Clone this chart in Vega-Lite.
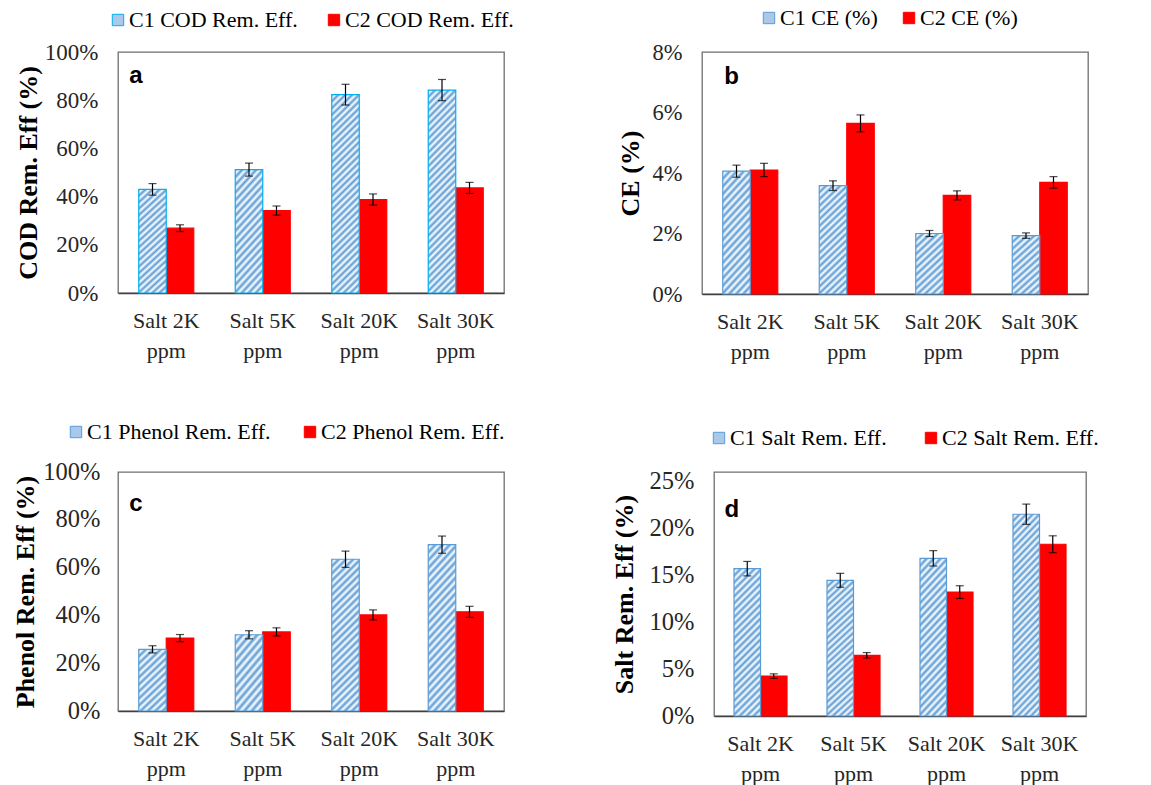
{
"$schema": "https://vega.github.io/schema/vega-lite/v6.json",
"padding": {"left": 12, "top": 6, "right": 5, "bottom": 5},
"bounds": "flush",
"spacing": 420,
"resolve": {"scale": {"fill": "independent", "stroke": "independent"}, "legend": {"fill": "independent", "stroke": "independent"}},
"config": {
  "view": {"stroke": "#6f6f6f", "strokeWidth": 1.3},
  "axis": {"labelFont": "Liberation Serif", "titleFont": "Liberation Serif", "labelColor": "#262626", "titleColor": "#000", "grid": false, "ticks": false},
  "axisY": {"domain": false, "labelPadding": 20, "titleFontSize": 26, "titleFontWeight": "bold"},
  "axisX": {"domainColor": "#404040", "domainWidth": 1.5, "labelFontSize": 22, "labelAngle": 0, "labelLineHeight": 30, "labelPadding": 17, "title": null, "labelExpr": "[replace(datum.label, ' ppm', ''), 'ppm']"},
  "legend": {"labelFont": "Liberation Serif", "labelFontSize": 22, "labelColor": "#000", "labelLimit": 0, "symbolType": "square", "symbolSize": 130, "labelOffset": 0, "symbolStrokeWidth": 1, "direction": "horizontal", "orient": "none"},
  "tick": {"color": "#000", "size": 8, "thickness": 1.2},
  "rule": {"color": "#000", "strokeWidth": 1.2}
},
"vconcat": [
{
"hconcat": [
{
"width": 386, "height": 241,
"data": {"values": [
{"cat": "Salt 2K ppm", "series": "C1 COD Rem. Eff.", "v": 0.43, "lo": 0.406, "hi": 0.454},
{"cat": "Salt 2K ppm", "series": "C2 COD Rem. Eff.", "v": 0.269, "lo": 0.255, "hi": 0.283},
{"cat": "Salt 5K ppm", "series": "C1 COD Rem. Eff.", "v": 0.512, "lo": 0.485, "hi": 0.539},
{"cat": "Salt 5K ppm", "series": "C2 COD Rem. Eff.", "v": 0.342, "lo": 0.323, "hi": 0.361},
{"cat": "Salt 20K ppm", "series": "C1 COD Rem. Eff.", "v": 0.823, "lo": 0.78, "hi": 0.866},
{"cat": "Salt 20K ppm", "series": "C2 COD Rem. Eff.", "v": 0.388, "lo": 0.365, "hi": 0.411},
{"cat": "Salt 30K ppm", "series": "C1 COD Rem. Eff.", "v": 0.842, "lo": 0.798, "hi": 0.886},
{"cat": "Salt 30K ppm", "series": "C2 COD Rem. Eff.", "v": 0.436, "lo": 0.413, "hi": 0.459}
]},
"encoding": {"x": {"field": "cat", "type": "nominal", "sort": null, "scale": {"paddingInner": 0.43, "paddingOuter": 0.215}}},
"layer": [
{"transform": [{"filter": "datum.series === 'C2 COD Rem. Eff.'"}],
 "mark": {"type": "bar", "width": 27.5, "xOffset": 13.75, "strokeWidth": 1.2},
 "encoding": {
  "y": {"field": "v", "type": "quantitative", "scale": {"domain": [0, 1]}, "axis": {"title": "COD Rem. Eff (%)", "format": ".0%", "values": [0, 0.2, 0.4, 0.6, 0.8, 1], "labelFontSize": 23, "titlePadding": 3}},
  "fill": {"field": "series", "type": "nominal", "scale": {"domain": ["C1 COD Rem. Eff.", "C2 COD Rem. Eff."], "range": ["#a9c8ea", "#ff0000"]}, "legend": {"title": null, "orient": "none", "legendX": -11, "legendY": -43, "direction": "horizontal", "columnPadding": 25, "encode": {"symbols": {"update": {"fill": {"signal": "datum.index === 0 ? {gradient: 'linear', x1: 0, y1: 0, x2: 1, y2: 1, stops: [{offset: 0, color: '#5b9bd5'}, {offset: 0.167, color: '#fff'}, {offset: 0.333, color: '#5b9bd5'}, {offset: 0.5, color: '#fff'}, {offset: 0.667, color: '#5b9bd5'}, {offset: 0.833, color: '#fff'}, {offset: 1, color: '#5b9bd5'}]} : '#ff0000'"}}}}}},
  "stroke": {"field": "series", "type": "nominal", "scale": {"domain": ["C1 COD Rem. Eff.", "C2 COD Rem. Eff."], "range": ["#00b0f0", "#ff0000"]}, "legend": {"title": null, "orient": "none", "legendX": -11, "legendY": -43, "direction": "horizontal", "columnPadding": 25, "encode": {"symbols": {"update": {"fill": {"signal": "datum.index === 0 ? {gradient: 'linear', x1: 0, y1: 0, x2: 1, y2: 1, stops: [{offset: 0, color: '#5b9bd5'}, {offset: 0.167, color: '#fff'}, {offset: 0.333, color: '#5b9bd5'}, {offset: 0.5, color: '#fff'}, {offset: 0.667, color: '#5b9bd5'}, {offset: 0.833, color: '#fff'}, {offset: 1, color: '#5b9bd5'}]} : '#ff0000'"}}}}}}
 }},
{"transform": [{"filter": "datum.series === 'C1 COD Rem. Eff.'"}],
 "mark": {"type": "bar", "width": 27.5, "xOffset": -13.75, "stroke": "#00b0f0", "strokeWidth": 1.2},
 "encoding": {
  "y": {"field": "v", "type": "quantitative"},
  "fill": {"condition": {"test": "datum.v > 0.7", "value": {"gradient":"linear","x1":0,"y1":0,"x2":0.153,"y2":1.117,"stops":[{"offset":0,"color":"#5b9bd5"},{"offset":0.015,"color":"#fff"},{"offset":0.03,"color":"#5b9bd5"},{"offset":0.045,"color":"#fff"},{"offset":0.06,"color":"#5b9bd5"},{"offset":0.075,"color":"#fff"},{"offset":0.09,"color":"#5b9bd5"},{"offset":0.105,"color":"#fff"},{"offset":0.12,"color":"#5b9bd5"},{"offset":0.135,"color":"#fff"},{"offset":0.15,"color":"#5b9bd5"},{"offset":0.165,"color":"#fff"},{"offset":0.18,"color":"#5b9bd5"},{"offset":0.195,"color":"#fff"},{"offset":0.21,"color":"#5b9bd5"},{"offset":0.225,"color":"#fff"},{"offset":0.24,"color":"#5b9bd5"},{"offset":0.255,"color":"#fff"},{"offset":0.27,"color":"#5b9bd5"},{"offset":0.285,"color":"#fff"},{"offset":0.3,"color":"#5b9bd5"},{"offset":0.315,"color":"#fff"},{"offset":0.33,"color":"#5b9bd5"},{"offset":0.345,"color":"#fff"},{"offset":0.36,"color":"#5b9bd5"},{"offset":0.375,"color":"#fff"},{"offset":0.39,"color":"#5b9bd5"},{"offset":0.405,"color":"#fff"},{"offset":0.42,"color":"#5b9bd5"},{"offset":0.435,"color":"#fff"},{"offset":0.45,"color":"#5b9bd5"},{"offset":0.465,"color":"#fff"},{"offset":0.48,"color":"#5b9bd5"},{"offset":0.495,"color":"#fff"},{"offset":0.51,"color":"#5b9bd5"},{"offset":0.525,"color":"#fff"},{"offset":0.54,"color":"#5b9bd5"},{"offset":0.555,"color":"#fff"},{"offset":0.57,"color":"#5b9bd5"},{"offset":0.585,"color":"#fff"},{"offset":0.6,"color":"#5b9bd5"},{"offset":0.615,"color":"#fff"},{"offset":0.63,"color":"#5b9bd5"},{"offset":0.645,"color":"#fff"},{"offset":0.66,"color":"#5b9bd5"},{"offset":0.675,"color":"#fff"},{"offset":0.69,"color":"#5b9bd5"},{"offset":0.705,"color":"#fff"},{"offset":0.72,"color":"#5b9bd5"},{"offset":0.735,"color":"#fff"},{"offset":0.75,"color":"#5b9bd5"},{"offset":0.765,"color":"#fff"},{"offset":0.78,"color":"#5b9bd5"},{"offset":0.795,"color":"#fff"},{"offset":0.81,"color":"#5b9bd5"},{"offset":0.825,"color":"#fff"},{"offset":0.84,"color":"#5b9bd5"},{"offset":0.855,"color":"#fff"},{"offset":0.87,"color":"#5b9bd5"},{"offset":0.885,"color":"#fff"},{"offset":0.9,"color":"#5b9bd5"},{"offset":0.915,"color":"#fff"},{"offset":0.93,"color":"#5b9bd5"},{"offset":0.945,"color":"#fff"},{"offset":0.96,"color":"#5b9bd5"},{"offset":0.975,"color":"#fff"},{"offset":0.99,"color":"#5b9bd5"},{"offset":1,"color":"#fff"}]}},
   "value": {"gradient":"linear","x1":0,"y1":0,"x2":0.286,"y2":1.174,"stops":[{"offset":0,"color":"#5b9bd5"},{"offset":0.025,"color":"#fff"},{"offset":0.05,"color":"#5b9bd5"},{"offset":0.075,"color":"#fff"},{"offset":0.1,"color":"#5b9bd5"},{"offset":0.125,"color":"#fff"},{"offset":0.15,"color":"#5b9bd5"},{"offset":0.175,"color":"#fff"},{"offset":0.2,"color":"#5b9bd5"},{"offset":0.225,"color":"#fff"},{"offset":0.25,"color":"#5b9bd5"},{"offset":0.275,"color":"#fff"},{"offset":0.3,"color":"#5b9bd5"},{"offset":0.325,"color":"#fff"},{"offset":0.35,"color":"#5b9bd5"},{"offset":0.375,"color":"#fff"},{"offset":0.4,"color":"#5b9bd5"},{"offset":0.425,"color":"#fff"},{"offset":0.45,"color":"#5b9bd5"},{"offset":0.475,"color":"#fff"},{"offset":0.5,"color":"#5b9bd5"},{"offset":0.525,"color":"#fff"},{"offset":0.55,"color":"#5b9bd5"},{"offset":0.575,"color":"#fff"},{"offset":0.6,"color":"#5b9bd5"},{"offset":0.625,"color":"#fff"},{"offset":0.65,"color":"#5b9bd5"},{"offset":0.675,"color":"#fff"},{"offset":0.7,"color":"#5b9bd5"},{"offset":0.725,"color":"#fff"},{"offset":0.75,"color":"#5b9bd5"},{"offset":0.775,"color":"#fff"},{"offset":0.8,"color":"#5b9bd5"},{"offset":0.825,"color":"#fff"},{"offset":0.85,"color":"#5b9bd5"},{"offset":0.875,"color":"#fff"},{"offset":0.9,"color":"#5b9bd5"},{"offset":0.925,"color":"#fff"},{"offset":0.95,"color":"#5b9bd5"},{"offset":0.975,"color":"#fff"},{"offset":1,"color":"#5b9bd5"}]}}
 }},
{"transform": [{"filter": "datum.series === 'C1 COD Rem. Eff.'"}], "mark": {"type": "rule", "xOffset": -13.75}, "encoding": {"y": {"field": "lo", "type": "quantitative"}, "y2": {"field": "hi"}}},
{"transform": [{"filter": "datum.series === 'C2 COD Rem. Eff.'"}], "mark": {"type": "rule", "xOffset": 13.75}, "encoding": {"y": {"field": "lo", "type": "quantitative"}, "y2": {"field": "hi"}}},
{"transform": [{"filter": "datum.series === 'C1 COD Rem. Eff.'"}], "mark": {"type": "tick", "xOffset": -13.75}, "encoding": {"y": {"field": "lo", "type": "quantitative"}}},
{"transform": [{"filter": "datum.series === 'C1 COD Rem. Eff.'"}], "mark": {"type": "tick", "xOffset": -13.75}, "encoding": {"y": {"field": "hi", "type": "quantitative"}}},
{"transform": [{"filter": "datum.series === 'C2 COD Rem. Eff.'"}], "mark": {"type": "tick", "xOffset": 13.75}, "encoding": {"y": {"field": "lo", "type": "quantitative"}}},
{"transform": [{"filter": "datum.series === 'C2 COD Rem. Eff.'"}], "mark": {"type": "tick", "xOffset": 13.75}, "encoding": {"y": {"field": "hi", "type": "quantitative"}}},
{"data": {"values": [{"t": "a"}]},
 "mark": {"type": "text", "font": "Liberation Sans", "fontWeight": "bold", "fontSize": 24, "align": "left", "baseline": "middle", "dx": -37, "color": "#000"},
 "encoding": {"x": {"datum": "Salt 2K ppm"}, "y": {"datum": 0.9}, "text": {"field": "t"}}}
]
},
{
"width": 386, "height": 242,
"data": {"values": [
{"cat": "Salt 2K ppm", "series": "C1 CE (%)", "v": 0.0406, "lo": 0.0386, "hi": 0.0426},
{"cat": "Salt 2K ppm", "series": "C2 CE (%)", "v": 0.041, "lo": 0.0388, "hi": 0.0432},
{"cat": "Salt 5K ppm", "series": "C1 CE (%)", "v": 0.0358, "lo": 0.0342, "hi": 0.0374},
{"cat": "Salt 5K ppm", "series": "C2 CE (%)", "v": 0.0564, "lo": 0.0536, "hi": 0.0592},
{"cat": "Salt 20K ppm", "series": "C1 CE (%)", "v": 0.02, "lo": 0.019, "hi": 0.021},
{"cat": "Salt 20K ppm", "series": "C2 CE (%)", "v": 0.0326, "lo": 0.0311, "hi": 0.0341},
{"cat": "Salt 30K ppm", "series": "C1 CE (%)", "v": 0.0193, "lo": 0.0184, "hi": 0.0202},
{"cat": "Salt 30K ppm", "series": "C2 CE (%)", "v": 0.0369, "lo": 0.035, "hi": 0.0388}
]},
"encoding": {"x": {"field": "cat", "type": "nominal", "sort": null, "scale": {"paddingInner": 0.43, "paddingOuter": 0.215}}},
"layer": [
{"transform": [{"filter": "datum.series === 'C2 CE (%)'"}],
 "mark": {"type": "bar", "width": 27.5, "xOffset": 13.75, "strokeWidth": 1.2},
 "encoding": {
  "y": {"field": "v", "type": "quantitative", "scale": {"domain": [0, 0.08]}, "axis": {"title": "CE (%)", "format": ".0%", "values": [0, 0.02, 0.04, 0.06, 0.08], "labelFontSize": 22.5, "titlePadding": 9}},
  "fill": {"field": "series", "type": "nominal", "scale": {"domain": ["C1 CE (%)", "C2 CE (%)"], "range": ["#a9c8ea", "#ff0000"]}, "legend": {"title": null, "orient": "none", "legendX": 56, "legendY": -45, "direction": "horizontal", "columnPadding": 20, "encode": {"symbols": {"update": {"fill": {"signal": "datum.index === 0 ? {gradient: 'linear', x1: 0, y1: 0, x2: 1, y2: 1, stops: [{offset: 0, color: '#5b9bd5'}, {offset: 0.167, color: '#fff'}, {offset: 0.333, color: '#5b9bd5'}, {offset: 0.5, color: '#fff'}, {offset: 0.667, color: '#5b9bd5'}, {offset: 0.833, color: '#fff'}, {offset: 1, color: '#5b9bd5'}]} : '#ff0000'"}}}}}},
  "stroke": {"field": "series", "type": "nominal", "scale": {"domain": ["C1 CE (%)", "C2 CE (%)"], "range": ["#5b9bd5", "#ff0000"]}, "legend": {"title": null, "orient": "none", "legendX": 56, "legendY": -45, "direction": "horizontal", "columnPadding": 20, "encode": {"symbols": {"update": {"fill": {"signal": "datum.index === 0 ? {gradient: 'linear', x1: 0, y1: 0, x2: 1, y2: 1, stops: [{offset: 0, color: '#5b9bd5'}, {offset: 0.167, color: '#fff'}, {offset: 0.333, color: '#5b9bd5'}, {offset: 0.5, color: '#fff'}, {offset: 0.667, color: '#5b9bd5'}, {offset: 0.833, color: '#fff'}, {offset: 1, color: '#5b9bd5'}]} : '#ff0000'"}}}}}}
 }},
{"transform": [{"filter": "datum.series === 'C1 CE (%)'"}],
 "mark": {"type": "bar", "width": 27.5, "xOffset": -13.75, "stroke": "#5b9bd5", "strokeWidth": 1.2},
 "encoding": {
  "y": {"field": "v", "type": "quantitative"},
  "fill": {"condition": {"test": "datum.v > 0.03", "value": {"gradient":"linear","x1":0,"y1":0,"x2":0.286,"y2":1.174,"stops":[{"offset":0,"color":"#5b9bd5"},{"offset":0.025,"color":"#fff"},{"offset":0.05,"color":"#5b9bd5"},{"offset":0.075,"color":"#fff"},{"offset":0.1,"color":"#5b9bd5"},{"offset":0.125,"color":"#fff"},{"offset":0.15,"color":"#5b9bd5"},{"offset":0.175,"color":"#fff"},{"offset":0.2,"color":"#5b9bd5"},{"offset":0.225,"color":"#fff"},{"offset":0.25,"color":"#5b9bd5"},{"offset":0.275,"color":"#fff"},{"offset":0.3,"color":"#5b9bd5"},{"offset":0.325,"color":"#fff"},{"offset":0.35,"color":"#5b9bd5"},{"offset":0.375,"color":"#fff"},{"offset":0.4,"color":"#5b9bd5"},{"offset":0.425,"color":"#fff"},{"offset":0.45,"color":"#5b9bd5"},{"offset":0.475,"color":"#fff"},{"offset":0.5,"color":"#5b9bd5"},{"offset":0.525,"color":"#fff"},{"offset":0.55,"color":"#5b9bd5"},{"offset":0.575,"color":"#fff"},{"offset":0.6,"color":"#5b9bd5"},{"offset":0.625,"color":"#fff"},{"offset":0.65,"color":"#5b9bd5"},{"offset":0.675,"color":"#fff"},{"offset":0.7,"color":"#5b9bd5"},{"offset":0.725,"color":"#fff"},{"offset":0.75,"color":"#5b9bd5"},{"offset":0.775,"color":"#fff"},{"offset":0.8,"color":"#5b9bd5"},{"offset":0.825,"color":"#fff"},{"offset":0.85,"color":"#5b9bd5"},{"offset":0.875,"color":"#fff"},{"offset":0.9,"color":"#5b9bd5"},{"offset":0.925,"color":"#fff"},{"offset":0.95,"color":"#5b9bd5"},{"offset":0.975,"color":"#fff"},{"offset":1,"color":"#5b9bd5"}]}},
   "value": {"gradient":"linear","x1":0,"y1":0,"x2":0.514,"y2":1.208,"stops":[{"offset":0,"color":"#5b9bd5"},{"offset":0.04,"color":"#fff"},{"offset":0.08,"color":"#5b9bd5"},{"offset":0.12,"color":"#fff"},{"offset":0.16,"color":"#5b9bd5"},{"offset":0.2,"color":"#fff"},{"offset":0.24,"color":"#5b9bd5"},{"offset":0.28,"color":"#fff"},{"offset":0.32,"color":"#5b9bd5"},{"offset":0.36,"color":"#fff"},{"offset":0.4,"color":"#5b9bd5"},{"offset":0.44,"color":"#fff"},{"offset":0.48,"color":"#5b9bd5"},{"offset":0.52,"color":"#fff"},{"offset":0.56,"color":"#5b9bd5"},{"offset":0.6,"color":"#fff"},{"offset":0.64,"color":"#5b9bd5"},{"offset":0.68,"color":"#fff"},{"offset":0.72,"color":"#5b9bd5"},{"offset":0.76,"color":"#fff"},{"offset":0.8,"color":"#5b9bd5"},{"offset":0.84,"color":"#fff"},{"offset":0.88,"color":"#5b9bd5"},{"offset":0.92,"color":"#fff"},{"offset":0.96,"color":"#5b9bd5"},{"offset":1,"color":"#fff"}]}}
 }},
{"transform": [{"filter": "datum.series === 'C1 CE (%)'"}], "mark": {"type": "rule", "xOffset": -13.75}, "encoding": {"y": {"field": "lo", "type": "quantitative"}, "y2": {"field": "hi"}}},
{"transform": [{"filter": "datum.series === 'C2 CE (%)'"}], "mark": {"type": "rule", "xOffset": 13.75}, "encoding": {"y": {"field": "lo", "type": "quantitative"}, "y2": {"field": "hi"}}},
{"transform": [{"filter": "datum.series === 'C1 CE (%)'"}], "mark": {"type": "tick", "xOffset": -13.75}, "encoding": {"y": {"field": "lo", "type": "quantitative"}}},
{"transform": [{"filter": "datum.series === 'C1 CE (%)'"}], "mark": {"type": "tick", "xOffset": -13.75}, "encoding": {"y": {"field": "hi", "type": "quantitative"}}},
{"transform": [{"filter": "datum.series === 'C2 CE (%)'"}], "mark": {"type": "tick", "xOffset": 13.75}, "encoding": {"y": {"field": "lo", "type": "quantitative"}}},
{"transform": [{"filter": "datum.series === 'C2 CE (%)'"}], "mark": {"type": "tick", "xOffset": 13.75}, "encoding": {"y": {"field": "hi", "type": "quantitative"}}},
{"data": {"values": [{"t": "b"}]},
 "mark": {"type": "text", "font": "Liberation Sans", "fontWeight": "bold", "fontSize": 24, "align": "left", "baseline": "middle", "dx": -26, "color": "#000"},
 "encoding": {"x": {"datum": "Salt 2K ppm"}, "y": {"datum": 0.0718}, "text": {"field": "t"}}}
]
}
],
"spacing": 198,
"bounds": "flush",
"resolve": {"scale": {"fill": "independent", "stroke": "independent"}, "legend": {"fill": "independent", "stroke": "independent"}}
},
{
"hconcat": [
{
"width": 386, "height": 239,
"data": {"values": [
{"cat": "Salt 2K ppm", "series": "C1 Phenol Rem. Eff.", "v": 0.258, "lo": 0.243, "hi": 0.273},
{"cat": "Salt 2K ppm", "series": "C2 Phenol Rem. Eff.", "v": 0.305, "lo": 0.29, "hi": 0.32},
{"cat": "Salt 5K ppm", "series": "C1 Phenol Rem. Eff.", "v": 0.319, "lo": 0.302, "hi": 0.336},
{"cat": "Salt 5K ppm", "series": "C2 Phenol Rem. Eff.", "v": 0.331, "lo": 0.314, "hi": 0.348},
{"cat": "Salt 20K ppm", "series": "C1 Phenol Rem. Eff.", "v": 0.635, "lo": 0.601, "hi": 0.669},
{"cat": "Salt 20K ppm", "series": "C2 Phenol Rem. Eff.", "v": 0.402, "lo": 0.381, "hi": 0.423},
{"cat": "Salt 30K ppm", "series": "C1 Phenol Rem. Eff.", "v": 0.696, "lo": 0.66, "hi": 0.732},
{"cat": "Salt 30K ppm", "series": "C2 Phenol Rem. Eff.", "v": 0.415, "lo": 0.392, "hi": 0.438}
]},
"encoding": {"x": {"field": "cat", "type": "nominal", "sort": null, "scale": {"paddingInner": 0.43, "paddingOuter": 0.215}}},
"layer": [
{"transform": [{"filter": "datum.series === 'C2 Phenol Rem. Eff.'"}],
 "mark": {"type": "bar", "width": 27.5, "xOffset": 13.75, "strokeWidth": 1.2},
 "encoding": {
  "y": {"field": "v", "type": "quantitative", "scale": {"domain": [0, 1]}, "axis": {"title": "Phenol Rem. Eff (%)", "format": ".0%", "values": [0, 0.2, 0.4, 0.6, 0.8, 1], "labelFontSize": 24.5, "labelPadding": 18, "titlePadding": 4}},
  "fill": {"field": "series", "type": "nominal", "scale": {"domain": ["C1 Phenol Rem. Eff.", "C2 Phenol Rem. Eff."], "range": ["#a9c8ea", "#ff0000"]}, "legend": {"title": null, "orient": "none", "legendX": -53, "legendY": -51, "direction": "horizontal", "columnPadding": 28, "encode": {"symbols": {"update": {"fill": {"signal": "datum.index === 0 ? {gradient: 'linear', x1: 0, y1: 0, x2: 1, y2: 1, stops: [{offset: 0, color: '#5b9bd5'}, {offset: 0.167, color: '#fff'}, {offset: 0.333, color: '#5b9bd5'}, {offset: 0.5, color: '#fff'}, {offset: 0.667, color: '#5b9bd5'}, {offset: 0.833, color: '#fff'}, {offset: 1, color: '#5b9bd5'}]} : '#ff0000'"}}}}}},
  "stroke": {"field": "series", "type": "nominal", "scale": {"domain": ["C1 Phenol Rem. Eff.", "C2 Phenol Rem. Eff."], "range": ["#5b9bd5", "#ff0000"]}, "legend": {"title": null, "orient": "none", "legendX": -53, "legendY": -51, "direction": "horizontal", "columnPadding": 28, "encode": {"symbols": {"update": {"fill": {"signal": "datum.index === 0 ? {gradient: 'linear', x1: 0, y1: 0, x2: 1, y2: 1, stops: [{offset: 0, color: '#5b9bd5'}, {offset: 0.167, color: '#fff'}, {offset: 0.333, color: '#5b9bd5'}, {offset: 0.5, color: '#fff'}, {offset: 0.667, color: '#5b9bd5'}, {offset: 0.833, color: '#fff'}, {offset: 1, color: '#5b9bd5'}]} : '#ff0000'"}}}}}}
 }},
{"transform": [{"filter": "datum.series === 'C1 Phenol Rem. Eff.'"}],
 "mark": {"type": "bar", "width": 27.5, "xOffset": -13.75, "stroke": "#5b9bd5", "strokeWidth": 1.2},
 "encoding": {
  "y": {"field": "v", "type": "quantitative"},
  "fill": {"condition": {"test": "datum.v > 0.5", "value": {"gradient":"linear","x1":0,"y1":0,"x2":0.206,"y2":1.143,"stops":[{"offset":0,"color":"#5b9bd5"},{"offset":0.02,"color":"#fff"},{"offset":0.04,"color":"#5b9bd5"},{"offset":0.06,"color":"#fff"},{"offset":0.08,"color":"#5b9bd5"},{"offset":0.1,"color":"#fff"},{"offset":0.12,"color":"#5b9bd5"},{"offset":0.14,"color":"#fff"},{"offset":0.16,"color":"#5b9bd5"},{"offset":0.18,"color":"#fff"},{"offset":0.2,"color":"#5b9bd5"},{"offset":0.22,"color":"#fff"},{"offset":0.24,"color":"#5b9bd5"},{"offset":0.26,"color":"#fff"},{"offset":0.28,"color":"#5b9bd5"},{"offset":0.3,"color":"#fff"},{"offset":0.32,"color":"#5b9bd5"},{"offset":0.34,"color":"#fff"},{"offset":0.36,"color":"#5b9bd5"},{"offset":0.38,"color":"#fff"},{"offset":0.4,"color":"#5b9bd5"},{"offset":0.42,"color":"#fff"},{"offset":0.44,"color":"#5b9bd5"},{"offset":0.46,"color":"#fff"},{"offset":0.48,"color":"#5b9bd5"},{"offset":0.5,"color":"#fff"},{"offset":0.52,"color":"#5b9bd5"},{"offset":0.54,"color":"#fff"},{"offset":0.56,"color":"#5b9bd5"},{"offset":0.58,"color":"#fff"},{"offset":0.6,"color":"#5b9bd5"},{"offset":0.62,"color":"#fff"},{"offset":0.64,"color":"#5b9bd5"},{"offset":0.66,"color":"#fff"},{"offset":0.68,"color":"#5b9bd5"},{"offset":0.7,"color":"#fff"},{"offset":0.72,"color":"#5b9bd5"},{"offset":0.74,"color":"#fff"},{"offset":0.76,"color":"#5b9bd5"},{"offset":0.78,"color":"#fff"},{"offset":0.8,"color":"#5b9bd5"},{"offset":0.82,"color":"#fff"},{"offset":0.84,"color":"#5b9bd5"},{"offset":0.86,"color":"#fff"},{"offset":0.88,"color":"#5b9bd5"},{"offset":0.9,"color":"#fff"},{"offset":0.92,"color":"#5b9bd5"},{"offset":0.94,"color":"#fff"},{"offset":0.96,"color":"#5b9bd5"},{"offset":0.98,"color":"#fff"},{"offset":1,"color":"#5b9bd5"}]}},
   "value": {"gradient":"linear","x1":0,"y1":0,"x2":0.514,"y2":1.208,"stops":[{"offset":0,"color":"#5b9bd5"},{"offset":0.04,"color":"#fff"},{"offset":0.08,"color":"#5b9bd5"},{"offset":0.12,"color":"#fff"},{"offset":0.16,"color":"#5b9bd5"},{"offset":0.2,"color":"#fff"},{"offset":0.24,"color":"#5b9bd5"},{"offset":0.28,"color":"#fff"},{"offset":0.32,"color":"#5b9bd5"},{"offset":0.36,"color":"#fff"},{"offset":0.4,"color":"#5b9bd5"},{"offset":0.44,"color":"#fff"},{"offset":0.48,"color":"#5b9bd5"},{"offset":0.52,"color":"#fff"},{"offset":0.56,"color":"#5b9bd5"},{"offset":0.6,"color":"#fff"},{"offset":0.64,"color":"#5b9bd5"},{"offset":0.68,"color":"#fff"},{"offset":0.72,"color":"#5b9bd5"},{"offset":0.76,"color":"#fff"},{"offset":0.8,"color":"#5b9bd5"},{"offset":0.84,"color":"#fff"},{"offset":0.88,"color":"#5b9bd5"},{"offset":0.92,"color":"#fff"},{"offset":0.96,"color":"#5b9bd5"},{"offset":1,"color":"#fff"}]}}
 }},
{"transform": [{"filter": "datum.series === 'C1 Phenol Rem. Eff.'"}], "mark": {"type": "rule", "xOffset": -13.75}, "encoding": {"y": {"field": "lo", "type": "quantitative"}, "y2": {"field": "hi"}}},
{"transform": [{"filter": "datum.series === 'C2 Phenol Rem. Eff.'"}], "mark": {"type": "rule", "xOffset": 13.75}, "encoding": {"y": {"field": "lo", "type": "quantitative"}, "y2": {"field": "hi"}}},
{"transform": [{"filter": "datum.series === 'C1 Phenol Rem. Eff.'"}], "mark": {"type": "tick", "xOffset": -13.75}, "encoding": {"y": {"field": "lo", "type": "quantitative"}}},
{"transform": [{"filter": "datum.series === 'C1 Phenol Rem. Eff.'"}], "mark": {"type": "tick", "xOffset": -13.75}, "encoding": {"y": {"field": "hi", "type": "quantitative"}}},
{"transform": [{"filter": "datum.series === 'C2 Phenol Rem. Eff.'"}], "mark": {"type": "tick", "xOffset": 13.75}, "encoding": {"y": {"field": "lo", "type": "quantitative"}}},
{"transform": [{"filter": "datum.series === 'C2 Phenol Rem. Eff.'"}], "mark": {"type": "tick", "xOffset": 13.75}, "encoding": {"y": {"field": "hi", "type": "quantitative"}}},
{"data": {"values": [{"t": "c"}]},
 "mark": {"type": "text", "font": "Liberation Sans", "fontWeight": "bold", "fontSize": 24, "align": "left", "baseline": "middle", "dx": -37, "color": "#000"},
 "encoding": {"x": {"datum": "Salt 2K ppm"}, "y": {"datum": 0.866}, "text": {"field": "t"}}}
]
},
{
"width": 372, "height": 244,
"data": {"values": [
{"cat": "Salt 2K ppm", "series": "C1 Salt Rem. Eff.", "v": 0.157, "lo": 0.1493, "hi": 0.1647},
{"cat": "Salt 2K ppm", "series": "C2 Salt Rem. Eff.", "v": 0.0425, "lo": 0.0401, "hi": 0.0449},
{"cat": "Salt 5K ppm", "series": "C1 Salt Rem. Eff.", "v": 0.1446, "lo": 0.1372, "hi": 0.152},
{"cat": "Salt 5K ppm", "series": "C2 Salt Rem. Eff.", "v": 0.0647, "lo": 0.0618, "hi": 0.0676},
{"cat": "Salt 20K ppm", "series": "C1 Salt Rem. Eff.", "v": 0.168, "lo": 0.1598, "hi": 0.1762},
{"cat": "Salt 20K ppm", "series": "C2 Salt Rem. Eff.", "v": 0.132, "lo": 0.1252, "hi": 0.1388},
{"cat": "Salt 30K ppm", "series": "C1 Salt Rem. Eff.", "v": 0.215, "lo": 0.2042, "hi": 0.2258},
{"cat": "Salt 30K ppm", "series": "C2 Salt Rem. Eff.", "v": 0.183, "lo": 0.174, "hi": 0.192}
]},
"encoding": {"x": {"field": "cat", "type": "nominal", "sort": null, "scale": {"paddingInner": 0.43, "paddingOuter": 0.215}}},
"layer": [
{"transform": [{"filter": "datum.series === 'C2 Salt Rem. Eff.'"}],
 "mark": {"type": "bar", "width": 26.5, "xOffset": 13.25, "strokeWidth": 1.2},
 "encoding": {
  "y": {"field": "v", "type": "quantitative", "scale": {"domain": [0, 0.25]}, "axis": {"title": "Salt Rem. Eff (%)", "format": ".0%", "values": [0, 0.05, 0.1, 0.15, 0.2, 0.25], "labelFontSize": 24.5, "titlePadding": 12}},
  "fill": {"field": "series", "type": "nominal", "scale": {"domain": ["C1 Salt Rem. Eff.", "C2 Salt Rem. Eff."], "range": ["#a9c8ea", "#ff0000"]}, "legend": {"title": null, "orient": "none", "legendX": -6, "legendY": -45, "direction": "horizontal", "columnPadding": 33, "encode": {"symbols": {"update": {"fill": {"signal": "datum.index === 0 ? {gradient: 'linear', x1: 0, y1: 0, x2: 1, y2: 1, stops: [{offset: 0, color: '#5b9bd5'}, {offset: 0.167, color: '#fff'}, {offset: 0.333, color: '#5b9bd5'}, {offset: 0.5, color: '#fff'}, {offset: 0.667, color: '#5b9bd5'}, {offset: 0.833, color: '#fff'}, {offset: 1, color: '#5b9bd5'}]} : '#ff0000'"}}}}}},
  "stroke": {"field": "series", "type": "nominal", "scale": {"domain": ["C1 Salt Rem. Eff.", "C2 Salt Rem. Eff."], "range": ["#5b9bd5", "#ff0000"]}, "legend": {"title": null, "orient": "none", "legendX": -6, "legendY": -45, "direction": "horizontal", "columnPadding": 33, "encode": {"symbols": {"update": {"fill": {"signal": "datum.index === 0 ? {gradient: 'linear', x1: 0, y1: 0, x2: 1, y2: 1, stops: [{offset: 0, color: '#5b9bd5'}, {offset: 0.167, color: '#fff'}, {offset: 0.333, color: '#5b9bd5'}, {offset: 0.5, color: '#fff'}, {offset: 0.667, color: '#5b9bd5'}, {offset: 0.833, color: '#fff'}, {offset: 1, color: '#5b9bd5'}]} : '#ff0000'"}}}}}}
 }},
{"transform": [{"filter": "datum.series === 'C1 Salt Rem. Eff.'"}],
 "mark": {"type": "bar", "width": 26.5, "xOffset": -13.25, "stroke": "#5b9bd5", "strokeWidth": 1.2},
 "encoding": {
  "y": {"field": "v", "type": "quantitative"},
  "fill": {"condition": {"test": "datum.v > 0.2", "value": {"gradient":"linear","x1":0,"y1":0,"x2":0.153,"y2":1.117,"stops":[{"offset":0,"color":"#5b9bd5"},{"offset":0.015,"color":"#fff"},{"offset":0.03,"color":"#5b9bd5"},{"offset":0.045,"color":"#fff"},{"offset":0.06,"color":"#5b9bd5"},{"offset":0.075,"color":"#fff"},{"offset":0.09,"color":"#5b9bd5"},{"offset":0.105,"color":"#fff"},{"offset":0.12,"color":"#5b9bd5"},{"offset":0.135,"color":"#fff"},{"offset":0.15,"color":"#5b9bd5"},{"offset":0.165,"color":"#fff"},{"offset":0.18,"color":"#5b9bd5"},{"offset":0.195,"color":"#fff"},{"offset":0.21,"color":"#5b9bd5"},{"offset":0.225,"color":"#fff"},{"offset":0.24,"color":"#5b9bd5"},{"offset":0.255,"color":"#fff"},{"offset":0.27,"color":"#5b9bd5"},{"offset":0.285,"color":"#fff"},{"offset":0.3,"color":"#5b9bd5"},{"offset":0.315,"color":"#fff"},{"offset":0.33,"color":"#5b9bd5"},{"offset":0.345,"color":"#fff"},{"offset":0.36,"color":"#5b9bd5"},{"offset":0.375,"color":"#fff"},{"offset":0.39,"color":"#5b9bd5"},{"offset":0.405,"color":"#fff"},{"offset":0.42,"color":"#5b9bd5"},{"offset":0.435,"color":"#fff"},{"offset":0.45,"color":"#5b9bd5"},{"offset":0.465,"color":"#fff"},{"offset":0.48,"color":"#5b9bd5"},{"offset":0.495,"color":"#fff"},{"offset":0.51,"color":"#5b9bd5"},{"offset":0.525,"color":"#fff"},{"offset":0.54,"color":"#5b9bd5"},{"offset":0.555,"color":"#fff"},{"offset":0.57,"color":"#5b9bd5"},{"offset":0.585,"color":"#fff"},{"offset":0.6,"color":"#5b9bd5"},{"offset":0.615,"color":"#fff"},{"offset":0.63,"color":"#5b9bd5"},{"offset":0.645,"color":"#fff"},{"offset":0.66,"color":"#5b9bd5"},{"offset":0.675,"color":"#fff"},{"offset":0.69,"color":"#5b9bd5"},{"offset":0.705,"color":"#fff"},{"offset":0.72,"color":"#5b9bd5"},{"offset":0.735,"color":"#fff"},{"offset":0.75,"color":"#5b9bd5"},{"offset":0.765,"color":"#fff"},{"offset":0.78,"color":"#5b9bd5"},{"offset":0.795,"color":"#fff"},{"offset":0.81,"color":"#5b9bd5"},{"offset":0.825,"color":"#fff"},{"offset":0.84,"color":"#5b9bd5"},{"offset":0.855,"color":"#fff"},{"offset":0.87,"color":"#5b9bd5"},{"offset":0.885,"color":"#fff"},{"offset":0.9,"color":"#5b9bd5"},{"offset":0.915,"color":"#fff"},{"offset":0.93,"color":"#5b9bd5"},{"offset":0.945,"color":"#fff"},{"offset":0.96,"color":"#5b9bd5"},{"offset":0.975,"color":"#fff"},{"offset":0.99,"color":"#5b9bd5"},{"offset":1,"color":"#fff"}]}},
   "value": {"gradient":"linear","x1":0,"y1":0,"x2":0.206,"y2":1.143,"stops":[{"offset":0,"color":"#5b9bd5"},{"offset":0.02,"color":"#fff"},{"offset":0.04,"color":"#5b9bd5"},{"offset":0.06,"color":"#fff"},{"offset":0.08,"color":"#5b9bd5"},{"offset":0.1,"color":"#fff"},{"offset":0.12,"color":"#5b9bd5"},{"offset":0.14,"color":"#fff"},{"offset":0.16,"color":"#5b9bd5"},{"offset":0.18,"color":"#fff"},{"offset":0.2,"color":"#5b9bd5"},{"offset":0.22,"color":"#fff"},{"offset":0.24,"color":"#5b9bd5"},{"offset":0.26,"color":"#fff"},{"offset":0.28,"color":"#5b9bd5"},{"offset":0.3,"color":"#fff"},{"offset":0.32,"color":"#5b9bd5"},{"offset":0.34,"color":"#fff"},{"offset":0.36,"color":"#5b9bd5"},{"offset":0.38,"color":"#fff"},{"offset":0.4,"color":"#5b9bd5"},{"offset":0.42,"color":"#fff"},{"offset":0.44,"color":"#5b9bd5"},{"offset":0.46,"color":"#fff"},{"offset":0.48,"color":"#5b9bd5"},{"offset":0.5,"color":"#fff"},{"offset":0.52,"color":"#5b9bd5"},{"offset":0.54,"color":"#fff"},{"offset":0.56,"color":"#5b9bd5"},{"offset":0.58,"color":"#fff"},{"offset":0.6,"color":"#5b9bd5"},{"offset":0.62,"color":"#fff"},{"offset":0.64,"color":"#5b9bd5"},{"offset":0.66,"color":"#fff"},{"offset":0.68,"color":"#5b9bd5"},{"offset":0.7,"color":"#fff"},{"offset":0.72,"color":"#5b9bd5"},{"offset":0.74,"color":"#fff"},{"offset":0.76,"color":"#5b9bd5"},{"offset":0.78,"color":"#fff"},{"offset":0.8,"color":"#5b9bd5"},{"offset":0.82,"color":"#fff"},{"offset":0.84,"color":"#5b9bd5"},{"offset":0.86,"color":"#fff"},{"offset":0.88,"color":"#5b9bd5"},{"offset":0.9,"color":"#fff"},{"offset":0.92,"color":"#5b9bd5"},{"offset":0.94,"color":"#fff"},{"offset":0.96,"color":"#5b9bd5"},{"offset":0.98,"color":"#fff"},{"offset":1,"color":"#5b9bd5"}]}}
 }},
{"transform": [{"filter": "datum.series === 'C1 Salt Rem. Eff.'"}], "mark": {"type": "rule", "xOffset": -13.25}, "encoding": {"y": {"field": "lo", "type": "quantitative"}, "y2": {"field": "hi"}}},
{"transform": [{"filter": "datum.series === 'C2 Salt Rem. Eff.'"}], "mark": {"type": "rule", "xOffset": 13.25}, "encoding": {"y": {"field": "lo", "type": "quantitative"}, "y2": {"field": "hi"}}},
{"transform": [{"filter": "datum.series === 'C1 Salt Rem. Eff.'"}], "mark": {"type": "tick", "xOffset": -13.25}, "encoding": {"y": {"field": "lo", "type": "quantitative"}}},
{"transform": [{"filter": "datum.series === 'C1 Salt Rem. Eff.'"}], "mark": {"type": "tick", "xOffset": -13.25}, "encoding": {"y": {"field": "hi", "type": "quantitative"}}},
{"transform": [{"filter": "datum.series === 'C2 Salt Rem. Eff.'"}], "mark": {"type": "tick", "xOffset": 13.25}, "encoding": {"y": {"field": "lo", "type": "quantitative"}}},
{"transform": [{"filter": "datum.series === 'C2 Salt Rem. Eff.'"}], "mark": {"type": "tick", "xOffset": 13.25}, "encoding": {"y": {"field": "hi", "type": "quantitative"}}},
{"data": {"values": [{"t": "d"}]},
 "mark": {"type": "text", "font": "Liberation Sans", "fontWeight": "bold", "fontSize": 24, "align": "left", "baseline": "middle", "dx": -36, "color": "#000"},
 "encoding": {"x": {"datum": "Salt 2K ppm"}, "y": {"datum": 0.219}, "text": {"field": "t"}}}
]
}
],
"spacing": 210,
"bounds": "flush",
"resolve": {"scale": {"fill": "independent", "stroke": "independent"}, "legend": {"fill": "independent", "stroke": "independent"}}
}
]
}
